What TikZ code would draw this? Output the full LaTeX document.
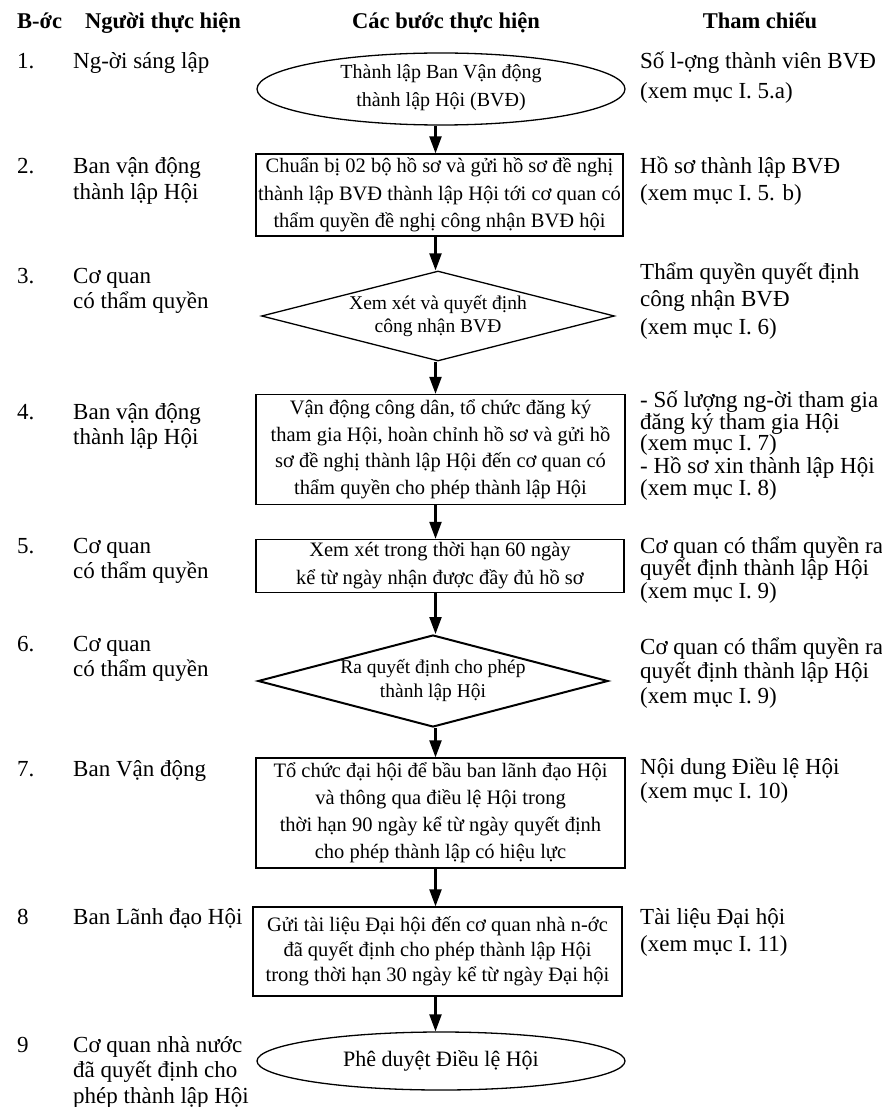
\documentclass[tikz,border=0pt]{standalone}
\usepackage{fontspec}
\setmainfont{Liberation Serif}
\usetikzlibrary{shapes.geometric,arrows.meta}
\begin{document}
\begin{tikzpicture}[x=1pt,y=-1pt,
  hdr/.style={anchor=base, inner sep=0pt, font=\bfseries\fontsize{22.5}{26}\selectfont},
  num/.style={anchor=base west, inner sep=0pt, font=\fontsize{23}{26}\selectfont},
  who/.style={anchor=base west, align=left, inner sep=0pt, font=\fontsize{23}{25.5}\selectfont},
  ref/.style={anchor=base west, align=left, inner sep=0pt, font=\fontsize{23}{#1}\selectfont},
  procbox/.style={draw, line width=1.3pt, rectangle, inner sep=0pt, align=center, font=\fontsize{20.5}{#1}\selectfont},
  oval/.style={draw, line width=1.3pt, ellipse, inner sep=0pt},
  dia/.style={draw, line width=#1, diamond, inner sep=0pt},
  intext/.style={inner sep=0pt, align=center},
  arr/.style={line width=2.2pt, -{Triangle[length=17pt,width=12pt]}}
]
\fill[white] (0,0) rectangle (881,1107);
\useasboundingbox (0,0) rectangle (881,1107);
\coordinate (ax) at (435.5,0);

% headers
\node[hdr, anchor=base west] (hStep) at (17,29) {B-ớc};
\node[hdr, anchor=base west] (hWho) at (85,29) {Người thực hiện};
\node[hdr] (hSteps) at (446,29) {Các bước thực hiện};
\node[hdr] (hRef) at (760,29) {Tham chiếu};

% step numbers
\node[num] (n1) at (17,69) {1.};
\node[num] (n2) at (17,174) {2.};
\node[num] (n3) at (17,283) {3.};
\node[num] (n4) at (17,419) {4.};
\node[num] (n5) at (17,553) {5.};
\node[num] (n6) at (17,651) {6.};
\node[num] (n7) at (17,776) {7.};
\node[num] (n8) at (17,924) {8};
\node[num] (n9) at (17,1052) {9};

% who (multi-line nodes are placed by the baseline of their last line)
\node[who] (w1) at (73,69) {Ng-ời sáng lập};
\node[who] (w2) at (73,199.5) {Ban vận động\\thành lập Hội};
\node[who] (w3) at (73,308.5) {Cơ quan\\có thẩm quyền};
\node[who] (w4) at (73,444.5) {Ban vận động\\thành lập Hội};
\node[who] (w5) at (73,578.5) {Cơ quan\\có thẩm quyền};
\node[who] (w6) at (73,676.5) {Cơ quan\\có thẩm quyền};
\node[who] (w7) at (73,776) {Ban Vận động};
\node[who] (w8) at (73,924) {Ban Lãnh đạo Hội};
\node[who] (w9) at (73,1103) {Cơ quan nhà nước\\đã quyết định cho\\phép thành lập Hội};

% references
\node[ref=30] (r1) at (640,99) {Số l-ợng thành viên BVĐ\\(xem mục I. 5.a)};
\node[ref=27] (r2) at (640,201) {Hồ sơ thành lập BVĐ\\(xem mục I. 5. b)};
\node[ref=27.5] (r3) at (640,334) {Thẩm quyền quyết định\\công nhận BVĐ\\(xem mục I. 6)};
\node[ref=21.5] (r4) at (640,495) {- Số lượng ng-ời tham gia\\đăng ký tham gia Hội\\(xem mục I. 7)\\- Hồ sơ xin thành lập Hội\\(xem mục I. 8)};
\node[ref=22.5] (r5) at (640,598) {Cơ quan có thẩm quyền ra\\quyết định thành lập Hội\\(xem mục I. 9)};
\node[ref=24.5] (r6) at (640,703) {Cơ quan có thẩm quyền ra\\quyết định thành lập Hội\\(xem mục I. 9)};
\node[ref=24] (r7) at (640,798) {Nội dung Điều lệ Hội\\(xem mục I. 10)};
\node[ref=27] (r8) at (640,951) {Tài liệu Đại hội\\(xem mục I. 11)};

% flow shapes
\node[oval, minimum width=368pt, minimum height=72pt] (s1) at (441,89) {};
\node[intext, font=\fontsize{20}{28}\selectfont] (t1) at ([yshift=1.5pt]s1.center) {Thành lập Ban Vận động\\thành lập Hội (BVĐ)};

\node[procbox=27.5, minimum width=367pt, minimum height=82pt] (s2) at (439.5,195)
  {Chuẩn bị 02 bộ hồ sơ và gửi hồ sơ đề nghị\\thành lập BVĐ thành lập Hội tới cơ quan có\\thẩm quyền đề nghị công nhận BVĐ hội};

\node[dia=1.3pt, minimum width=353pt, minimum height=90pt] (s3) at (438,316) {};
\node[intext, font=\fontsize{19.5}{23}\selectfont] (t3) at (s3) {Xem xét và quyết định\\công nhận BVĐ};

\node[procbox=26.5, minimum width=369pt, minimum height=110pt] (s4) at (440.5,449.5)
  {Vận động công dân, tổ chức đăng ký\\tham gia Hội, hoàn chỉnh hồ sơ và gửi hồ\\sơ đề nghị thành lập Hội đến cơ quan có\\thẩm quyền cho phép thành lập Hội};

\node[procbox=28, minimum width=368pt, minimum height=53pt] (s5) at (440,566)
  {Xem xét trong thời hạn 60 ngày\\kể từ ngày nhận được đầy đủ hồ sơ};

\node[dia=2pt, minimum width=350pt, minimum height=92pt] (s6) at (433,681) {};
\node[intext, font=\fontsize{19.5}{24}\selectfont] (t6) at (s6) {Ra quyết định cho phép\\thành lập Hội};

\node[procbox=27, minimum width=369pt, minimum height=110pt] (s7) at (440.5,813)
  {Tổ chức đại hội để bầu ban lãnh đạo Hội\\và thông qua điều lệ Hội trong\\thời hạn 90 ngày kể từ ngày quyết định\\cho phép thành lập có hiệu lực};

\node[procbox=25, minimum width=369pt, minimum height=89pt] (s8) at (437.5,951.5)
  {Gửi tài liệu Đại hội đến cơ quan nhà n-ớc\\đã quyết định cho phép thành lập Hội\\trong thời hạn 30 ngày kể từ ngày Đại hội};

\node[oval, minimum width=368pt, minimum height=58pt] (s9) at (441,1061) {};
\node[intext, font=\fontsize{22}{26}\selectfont] (t9) at (s9) {Phê duyệt Điều lệ Hội};

% connectors
\draw[arr] (s1.south -| ax) -- (s2.north -| ax);
\draw[arr] (s2.south -| ax) -- (s3.north -| ax);
\draw[arr] (s3.south -| ax) -- (s4.north -| ax);
\draw[arr] (s4.south -| ax) -- (s5.north -| ax);
\draw[arr] (s5.south -| ax) -- (s6.north -| ax);
\draw[arr] (s6.south -| ax) -- (s7.north -| ax);
\draw[arr] (s7.south -| ax) -- (s8.north -| ax);
\draw[arr] (s8.south -| ax) -- (s9.north -| ax);
\end{tikzpicture}
\end{document}
